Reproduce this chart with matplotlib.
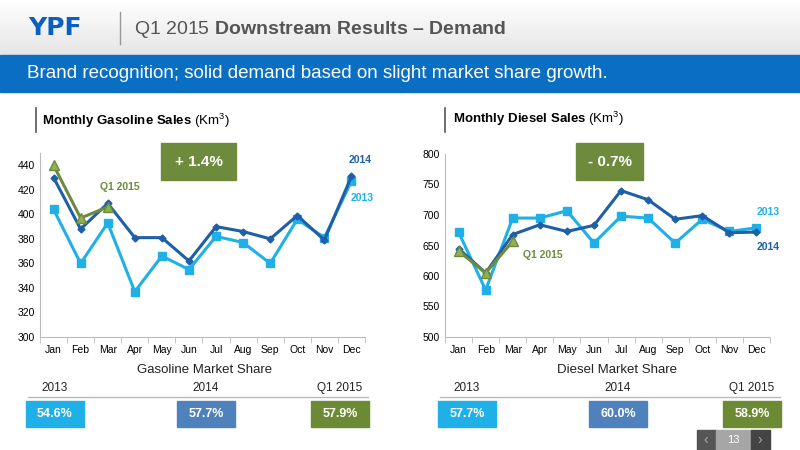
import matplotlib
matplotlib.use("Agg")
import matplotlib.pyplot as plt
import numpy as np
from matplotlib.patches import Rectangle

plt.rcParams["font.family"] = ["Liberation Sans", "DejaVu Sans"]
plt.rcParams["mathtext.fontset"] = "custom"
plt.rcParams["mathtext.rm"] = "Liberation Sans"
plt.rcParams["mathtext.bf"] = "Liberation Sans:bold"
plt.rcParams["mathtext.it"] = "Liberation Sans:italic"

months = ["Jan","Feb","Mar","Apr","May","Jun","Jul","Aug","Sep","Oct","Nov","Dec"]
gas_2013 = [404, 360, 393, 337, 366, 355, 382, 377, 360, 396, 381, 427]
gas_2014 = [430, 388, 409, 381, 381, 362, 390, 386, 380, 399, 379, 431]
gas_q1_2015 = [440, 397, 406]
die_2013 = [672, 577, 695, 695, 707, 654, 698, 695, 654, 693, 673, 679]
die_2014 = [645, 605, 668, 684, 673, 683, 740, 725, 693, 699, 671, 672]
die_q1_2015 = [641, 605, 657]
share_labels = ["2013", "2014", "Q1 2015"]
gas_share = ["54.6%", "57.7%", "57.9%"]
die_share = ["57.7%", "60.0%", "58.9%"]

C13 = "#1FB0E8"; C14 = "#1F5FA8"; C15 = "#6E8B3D"; CSH14 = "#4F81BD"; CSH15 = "#6B8A33"

fig = plt.figure(figsize=(8, 4.5), dpi=100)
W, H = 800, 450
def fx(x): return x / W
def fy(y): return 1 - y / H

bg = fig.add_axes([0, 0, 1, 1]); bg.axis("off")
grad = np.linspace(1, 0.9, 50).reshape(-1, 1)
bg.imshow(np.dstack([grad, grad, grad]), extent=[0, W, 55, 0], aspect="auto", zorder=0)
bg.set_xlim(0, W); bg.set_ylim(H, 0)
bg.add_patch(Rectangle((0, 55), W, 37, color="#0A6FC2", zorder=1))

def chart(rect, s13, s14, s15, ylim, yticks):
    ax = fig.add_axes(rect)
    ax.patch.set_alpha(0)
    x = np.arange(12)
    ax.plot(x, s13, color=C13, lw=2.2, marker="s", ms=5.5, zorder=2)
    ax.plot(x, s14, color=C14, lw=2.2, marker="D", ms=3.5, zorder=3)
    ax.plot(x[:3], s15, color=C15, lw=2.2, marker="^", ms=6.5, zorder=4, markerfacecolor="#8DB350")
    ax.set_xlim(-0.5, 11.5); ax.set_ylim(*ylim); ax.set_yticks(yticks)
    ax.set_xticks(x); ax.set_xticklabels(months)
    ax.set_xticks(np.arange(-0.5, 12, 1), minor=True)
    ax.tick_params(axis="x", which="major", length=0, labelsize=7.5, pad=6)
    ax.tick_params(axis="x", which="minor", length=4, color="#BBBBBB")
    ax.tick_params(axis="y", length=0, labelsize=7.5)
    for s in ["top", "right"]: ax.spines[s].set_visible(False)
    ax.spines["left"].set_color("#BBBBBB"); ax.spines["bottom"].set_color("#BBBBBB")
    return ax

chart([fx(40), fy(337), fx(325), (337-153)/H], gas_2013, gas_2014, gas_q1_2015, (300, 450), range(300, 441, 20))
chart([fx(445), fy(337), fx(325), (337-154)/H], die_2013, die_2014, die_q1_2015, (500, 800), range(500, 801, 50))

ov = fig.add_axes([0, 0, 1, 1]); ov.axis("off"); ov.patch.set_alpha(0)
ov.set_xlim(0, W); ov.set_ylim(H, 0)
ov.text(28, 28, "YPF", color="#0A5FC0", fontsize=18, fontweight="heavy", va="center", family="DejaVu Sans")
ov.plot([120, 120], [12, 44], color="#999999", lw=1)
ov.text(134, 29, "Q1 2015 $\\bf{Downstream\\ Results\\ –\\ Demand}$", color="#555555", fontsize=14, va="center")
ov.text(27, 74, "Brand recognition; solid demand based on slight market share growth.", color="white",
        fontsize=13.5, va="center")

ov.plot([36, 36], [108, 132], color="#555555", lw=1.2)
ov.text(42, 121, "$\\bf{Monthly\\ Gasoline\\ Sales}$ (Km$^3$)", fontsize=9.5, va="center")
ov.plot([445, 445], [108, 132], color="#555555", lw=1.2)
ov.text(453, 119, "$\\bf{Monthly\\ Diesel\\ Sales}$ (Km$^3$)", fontsize=9.5, va="center")

def box(x, y, w, h, c, t, fs=10):
    ov.add_patch(Rectangle((x, y), w, h, color=c, zorder=5))
    ov.text(x + w/2, y + h/2, t, color="white", fontsize=fs, fontweight="bold", ha="center", va="center", zorder=6)

box(161, 143, 75, 37, C15, "+ 1.4%", 11)
box(576, 143, 67, 37, C15, "- 0.7%", 11)
ov.text(360, 160, "2014", color=C14, fontsize=7.5, fontweight="bold", ha="center", va="center")
ov.text(362, 198, "2013", color=C13, fontsize=7.5, fontweight="bold", ha="center", va="center")
ov.text(120, 187, "Q1 2015", color=C15, fontsize=7.5, fontweight="bold", ha="center", va="center")
ov.text(768, 212, "2013", color=C13, fontsize=7.5, fontweight="bold", ha="center", va="center")
ov.text(768, 247, "2014", color=C14, fontsize=7.5, fontweight="bold", ha="center", va="center")
ov.text(543, 255, "Q1 2015", color=C15, fontsize=7.5, fontweight="bold", ha="center", va="center")

for x0, title, vals in [(28, "Gasoline Market Share", gas_share), (440, "Diesel Market Share", die_share)]:
    ov.text(x0 + 177, 370, title, fontsize=9.5, ha="center", va="center", color="#222222")
    ov.plot([x0, x0 + 340], [397, 397], color="#BBBBBB", lw=1)
    xs = [x0 + 27, x0 + 178, x0 + 312]
    for xc, lab in zip(xs, share_labels):
        ov.text(xc, 388, lab, fontsize=8.5, ha="center", va="center", color="#222222")
    for xc, v, c in zip(xs, vals, [C13, CSH14, CSH15]):
        box(xc - 29, 401, 58, 26, c, v, 9)

ov.add_patch(Rectangle((697, 430), 19, 20, color="#555555"))
ov.add_patch(Rectangle((716, 430), 35, 20, color="#A6A6A6"))
ov.add_patch(Rectangle((751, 430), 19, 20, color="#444444"))
ov.text(706, 440, "‹", color="#AAAAAA", ha="center", va="center", fontsize=10)
ov.text(733, 440, "13", color="white", ha="center", va="center", fontsize=8)
ov.text(760, 440, "›", color="#AAAAAA", ha="center", va="center", fontsize=10)

fig.savefig("out.png", dpi=100)
